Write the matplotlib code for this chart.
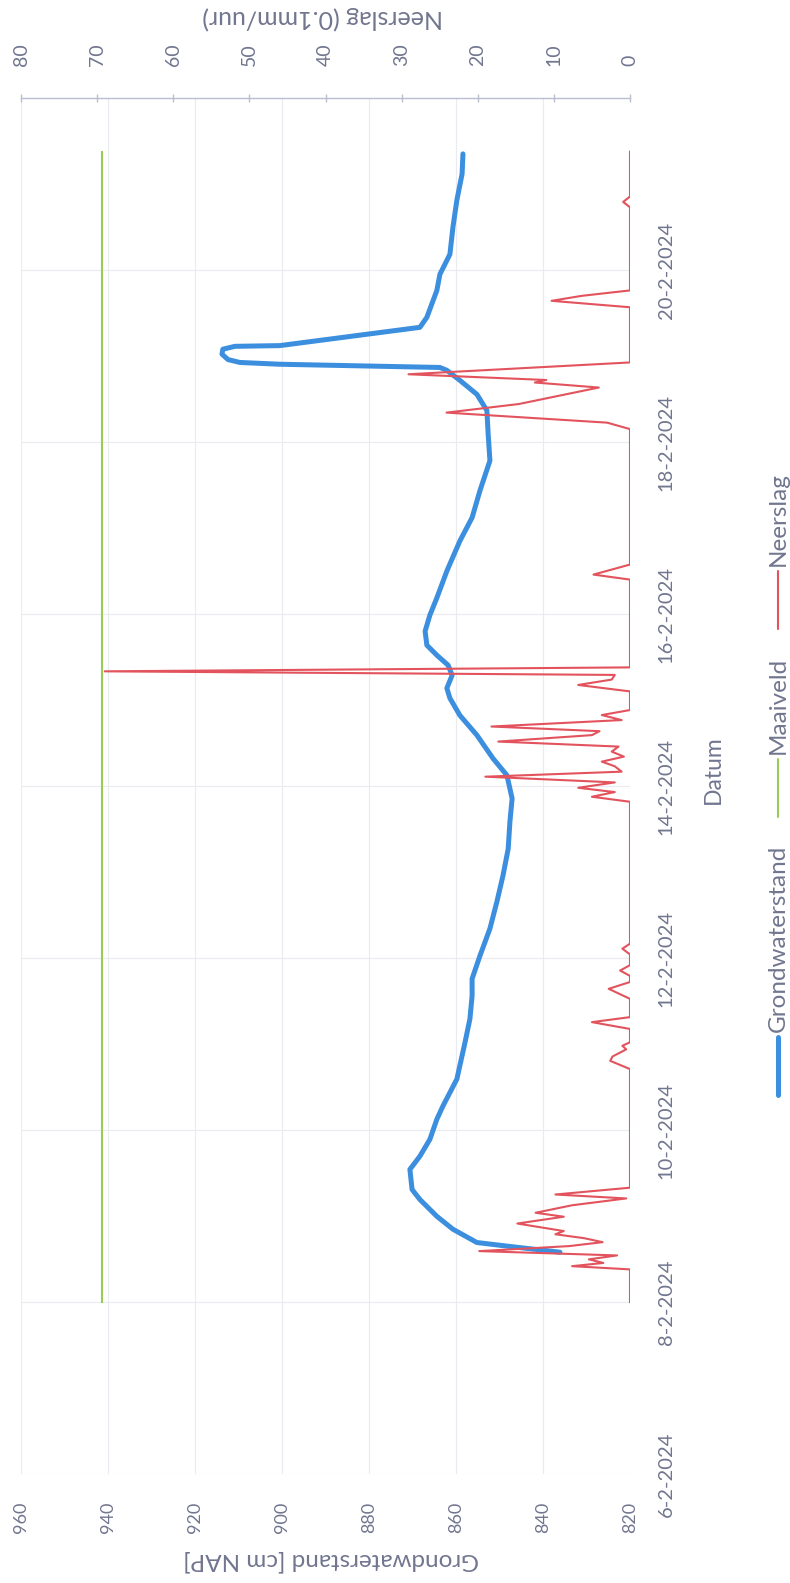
import datetime as dt

import matplotlib
matplotlib.use("Agg")
import matplotlib.pyplot as plt
import matplotlib.dates as mdates
import numpy as np
from matplotlib.lines import Line2D
from matplotlib.ticker import FuncFormatter

plt.rcParams["font.family"] = ["Lato", "DejaVu Sans"]

# ---- data (time in hours since 6-2-2024 00:00) ----
start = dt.datetime(2024, 2, 6)

gw_hours = [61.9, 63.6, 64.6, 68.3, 71.9, 76.6, 79.4, 85.0, 88.7, 93.4,
            99.0, 102.7, 110.2, 120.6, 127.0, 133.4, 138.2, 144.6, 152.2, 159.7,
            167.0, 174.5, 182.1, 188.5, 195.0, 199.7, 206.2, 211.7, 216.5, 219.3,
            222.9, 225.7, 228.5, 231.3, 235.2, 239.7, 244.5, 252.0, 260.4, 266.9,
            274.4, 282.8, 290.1, 296.8, 301.3, 305.2, 308.0, 308.8, 309.7, 310.2,
            311.0, 312.5, 313.9, 314.7, 314.9, 320.0, 322.8, 330.3, 334.8, 340.4,
            348.0, 355.5, 362.8, 368.4]
gw_level = [836.1, 848.3, 855.2, 860.7, 864.4, 868.3, 870.1, 870.6, 868.3, 866.0,
            864.4, 863.0, 859.8, 857.9, 856.8, 856.3, 856.3, 854.5, 852.2, 850.6,
            849.2, 848.0, 847.6, 847.1, 848.3, 851.5, 855.2, 859.1, 861.4, 862.1,
            860.9, 861.8, 864.4, 866.7, 867.1, 866.0, 864.4, 862.1, 859.1, 856.3,
            854.5, 852.2, 852.6, 852.9, 855.2, 859.1, 862.1, 863.7, 900.5, 909.7,
            912.4, 913.8, 913.6, 910.8, 900.5, 868.3, 866.7, 864.4, 863.7, 861.4,
            860.7, 859.8, 858.6, 858.4]

maaiveld_hours = [48.0, 369.0]
maaiveld_level = [941.3, 941.3]

rain_hours = [48.0, 57.1, 58.0, 58.9, 59.9, 61.0, 62.2, 63.6, 64.7, 65.8,
              66.9, 67.8, 69.9, 71.8, 72.9, 75.0, 76.9, 78.0, 79.9,
              113.0, 115.3, 116.5, 118.5, 119.5, 120.5, 124.2, 126.1, 127.5,
              132.6, 135.4, 137.3, 139.0, 140.5, 142.0, 145.0, 146.6, 148.0,
              187.6, 189.0, 190.3, 191.5, 193.0, 194.6, 196.0, 197.5, 198.8,
              200.2, 201.6, 203.0, 204.4, 206.2, 207.3, 208.6, 210.4, 211.8,
              213.2, 218.4, 220.2, 221.7, 223.0, 224.0, 225.1,
              249.6, 251.0, 253.8,
              291.6, 293.4, 296.2, 298.6, 303.2, 304.6, 305.3, 306.9, 307.4, 310.2,
              325.6, 327.4, 328.8, 330.3,
              353.5, 355.0, 356.5, 369.0]
rain_value = [0, 0, 7.6, 3.5, 5.4, 1.7, 19.8, 8.0, 3.6, 6.0,
              9.8, 8.7, 14.8, 8.7, 12.4, 7.6, 0.5, 9.8, 0,
              0, 2.6, 2.3, 0.5, 1.0, 0, 0, 5.0, 0,
              0, 2.8, 0, 0, 1.3, 0, 0, 1.0, 0,
              0, 5.0, 2.0, 6.8, 2.0, 19.0, 1.1, 2.0, 3.7,
              0.8, 2.4, 1.5, 17.3, 5.0, 4.0, 18.2, 1.1, 3.7,
              0, 0, 6.8, 2.4, 2.0, 69.0, 0,
              0, 4.8, 0,
              0, 3.0, 24.1, 14.6, 4.1, 12.5, 11.0, 29.1, 24.8, 0,
              0, 10.3, 6.3, 0,
              0, 0.9, 0, 0]

gw_ticks = list(range(820, 961, 20))
rain_ticks = list(range(0, 81, 10))
date_tick_hours = list(range(0, 337, 48))

# ---- styling ----
W, H = 790, 1583
BLUE = "#3b8fde"
GREEN = "#9bcb55"
RED = "#e2535d"
GRID = "#e9ebf1"
AXLINE = "#b9bfd0"
TXT = "#71768f"


def to_num(hours):
    return mdates.date2num(start) + np.asarray(hours, dtype=float) / 24.0


def fx(px):
    return px / W


def fy(py):
    return 1 - py / H


fig = plt.figure(figsize=(W / 100, H / 100), dpi=100)
fig.patch.set_facecolor("white")

left, right, top, bottom = 21, 630, 98, 1474
ax = fig.add_axes([fx(left), fy(bottom), (right - left) / W, (bottom - top) / H])

# groundwater level and ground surface on the primary axis
ax.plot(maaiveld_level, to_num(maaiveld_hours), color=GREEN, lw=1.5, zorder=3)
ax.plot(gw_level, to_num(gw_hours), color=BLUE, lw=3.6,
        solid_capstyle="round", solid_joinstyle="round", zorder=4)
ax.set_xlim(960, 820)

# precipitation on a secondary value axis sharing the date axis
ax2 = ax.twiny()
ax2.plot(rain_value, to_num(rain_hours), color=RED, lw=1.5, zorder=5)
ax2.set_xlim(80, 0)

ax.set_ylim(to_num(0), to_num(384))

# grid
ax.set_xticks(gw_ticks)
ax.set_yticks(to_num(date_tick_hours))
ax.grid(True, color=GRID, lw=0.8)
ax.set_axisbelow(True)

for s in ax.spines.values():
    s.set_visible(False)
for name, s in ax2.spines.items():
    s.set_visible(name == "top")
ax2.spines["top"].set_color(AXLINE)
ax2.spines["top"].set_linewidth(1.0)

# groundwater tick labels (bottom)
ax.tick_params(axis="x", bottom=True, top=False, length=0, pad=20,
               labelsize=13, labelcolor=TXT, labelrotation=90)

# date tick labels (right)
ax.yaxis.tick_right()
ax.yaxis.set_major_formatter(
    FuncFormatter(lambda v, p: "{0.day}-{0.month}-{0.year}".format(mdates.num2date(v))))
ax.tick_params(axis="y", left=False, right=True, length=0, pad=20,
               labelsize=14.5, labelcolor=TXT, labelrotation=90)
for lab in ax.get_yticklabels():
    lab.set_va("center")

# precipitation tick labels (top)
ax2.set_xticks(rain_ticks)
ax2.tick_params(axis="x", top=True, bottom=False, direction="inout", length=6,
                width=1.0, color=AXLINE, pad=20, labelsize=14, labelcolor=TXT,
                labelrotation=90)

# axis titles
fig.text(fx(331), fy(1560), "Grondwaterstand [cm NAP]", rotation=180,
         ha="center", va="center", fontsize=17.5, color=TXT)
fig.text(fx(323), fy(18), "Neerslag (0.1mm/uur)", rotation=180,
         ha="center", va="center", fontsize=18, color=TXT)
fig.text(fx(713), fy(770), "Datum", rotation=90,
         ha="center", va="center", fontsize=16.5, color=TXT)

# legend, stacked upwards from the bottom entry
renderer = fig.canvas.get_renderer()
leg_x = 778
line_len, text_gap, entry_gap = 58, 5, 28
entries = [("Grondwaterstand", BLUE, 3.6),
           ("Maaiveld", GREEN, 1.5),
           ("Neerslag", RED, 1.5)]
y_img = 1095
for label, col, lw in entries:
    fig.add_artist(Line2D([fx(leg_x), fx(leg_x)], [fy(y_img), fy(y_img - line_len)],
                          transform=fig.transFigure, color=col, lw=lw,
                          solid_capstyle="round"))
    y_img -= line_len + text_gap
    t = fig.text(fx(leg_x), fy(y_img), label, rotation=90, ha="center",
                 va="bottom", fontsize=17.5, color=TXT)
    y_img -= t.get_window_extent(renderer).height + entry_gap

fig.savefig("out.png", dpi=100, facecolor="white")
